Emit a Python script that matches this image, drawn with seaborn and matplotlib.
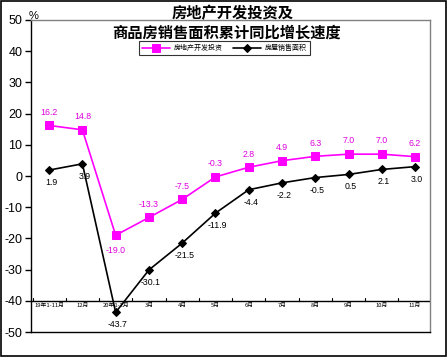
import matplotlib
matplotlib.use('Agg')
import matplotlib.pyplot as plt
import seaborn as sns
import pandas as pd
import numpy as np

months = ['19年1-11月', '12月', '20年1-2月', '3月', '4月', '5月', '6月',
          '7月', '8月', '9月', '10月', '11月']
invest = [16.2, 14.8, -19.0, -13.3, -7.5, -0.3, 2.8, 4.9, 6.3, 7.0, 7.0, 6.2]
sales = [1.9, 3.9, -43.7, -30.1, -21.5, -11.9, -4.4, -2.2, -0.5, 0.5, 2.1, 3.0]

sns.set_style('white')
plt.rcParams['font.family'] = ['Noto Sans CJK SC', 'DejaVu Sans']
plt.rcParams['text.color'] = 'black'
plt.rcParams['ytick.color'] = 'black'
plt.rcParams['xtick.color'] = 'black'

df = pd.DataFrame({'x': range(len(months)), 'invest': invest, 'sales': sales})

fig = plt.figure(figsize=(4.47, 3.57), dpi=100)
ax = fig.add_axes([0.069, 0.070, 0.893, 0.874])

sns.lineplot(x='x', y='invest', data=df, ax=ax, color='#FF00FF', marker='s',
             markersize=5.5, markeredgecolor='#FF00FF', linewidth=1.2,
             label='房地产开发投资')
sns.lineplot(x='x', y='sales', data=df, ax=ax, color='black', marker='D',
             markersize=4.2, markeredgecolor='black', linewidth=1.2,
             label='房屋销售面积')

for i, v in enumerate(invest):
    dy = -11 if v == -19.0 else 9.5
    ax.annotate(f'{v:.1f}', (i, v), xytext=(0, dy), textcoords='offset points',
                ha='center', va='center', fontsize=6.3, color='#DD00DD',
                family='Liberation Sans')
for i, v in enumerate(sales):
    ax.annotate(f'{v:.1f}', (i, v), xytext=(1.5, -9), textcoords='offset points',
                ha='center', va='center', fontsize=6.3, color='black',
                family='Liberation Sans')

ax.set_xlim(-0.55, 11.45)
ax.set_ylim(-50, 50)
ax.set_yticks(range(-50, 51, 10))
ax.set_yticklabels([str(t) for t in range(-50, 51, 10)], fontsize=9,
                   family='Liberation Sans')
ax.tick_params(axis='y', direction='out', length=4, width=1, left=True, pad=2)
ax.set_xticks([])
ax.set_xlabel('')
ax.set_ylabel('')

# category axis drawn at -40
ax.axhline(-40, color='black', linewidth=1)
for b in np.arange(-0.5, 12, 1):
    ax.plot([b, b], [-40, -39.2], color='black', linewidth=0.8)
for i, m in enumerate(months):
    ax.text(i, -41.6, m, ha='center', va='center', fontsize=4.2)

for s in ['left', 'bottom']:
    ax.spines[s].set_color('black')
    ax.spines[s].set_linewidth(1)
for s in ['top', 'right']:
    ax.spines[s].set_color('#808080')
    ax.spines[s].set_linewidth(1)

ax.text(-0.62, 51.2, '%', ha='left', va='center', fontsize=8,
        family='Liberation Sans')

fig.text(0.52, 0.962, '房地产开发投资及', ha='center', va='center',
         fontsize=11, fontweight='bold')
fig.text(0.507, 0.908, '商品房销售面积累计同比增长速度', ha='center', va='center',
         fontsize=11, fontweight='bold')

leg = ax.legend(loc='center', bbox_to_anchor=(0.485, 0.91), ncol=2,
                fontsize=5, frameon=True, fancybox=False, edgecolor='black',
                handlelength=4, borderpad=0.4, columnspacing=1.5,
                handletextpad=0.6)
leg.get_frame().set_linewidth(0.8)

fig.patches.append(plt.Rectangle((0.002, 0.003), 0.995, 0.994, fill=False,
                                 edgecolor='black', linewidth=1.2,
                                 transform=fig.transFigure, figure=fig))

fig.savefig('out.png', dpi=100)
